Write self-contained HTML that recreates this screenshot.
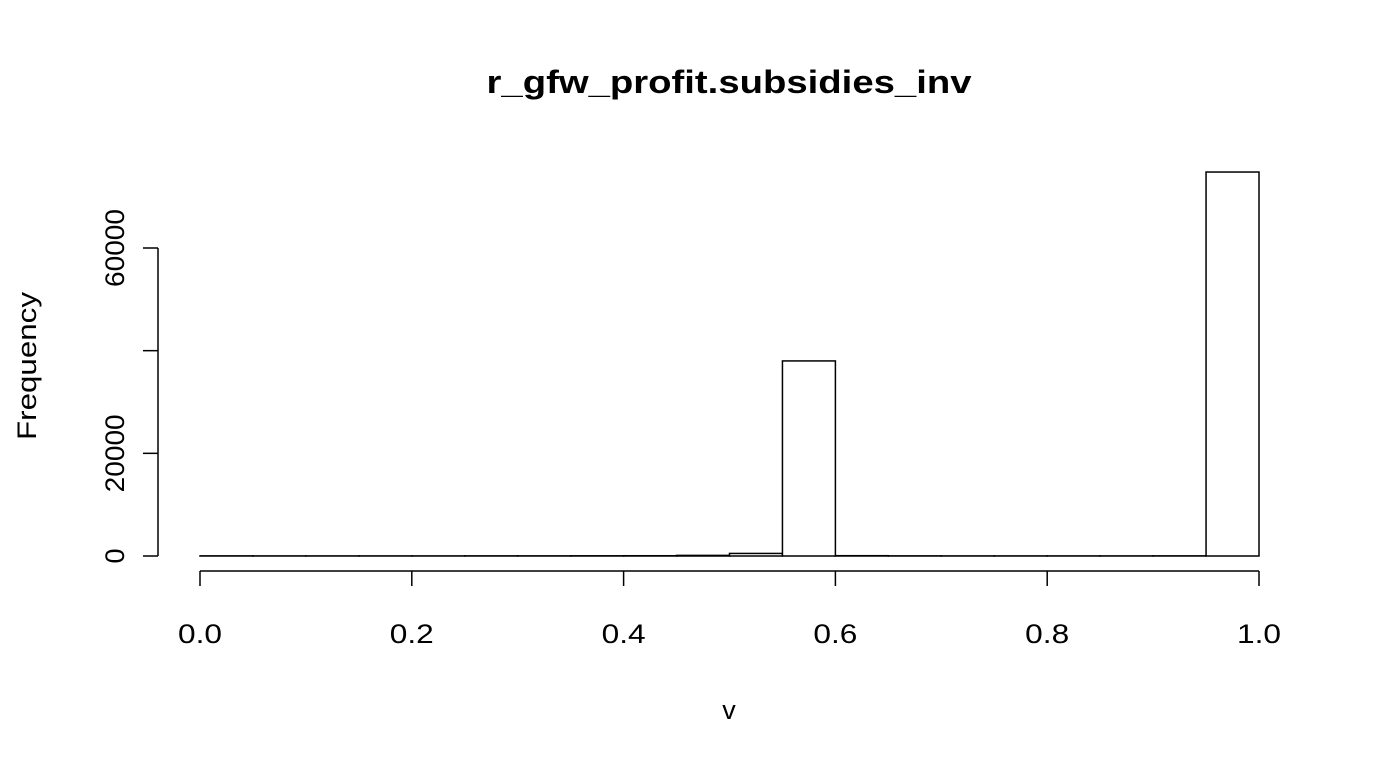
<!DOCTYPE html>
<html><head><meta charset="utf-8"><style>
body{margin:0;background:#fff}
svg{display:block;font-family:"Liberation Sans",Arial,sans-serif}
</style></head><body>
<svg id="chart" width="1382" height="768" viewBox="0 0 1382 768">
<text x="729" y="93" text-anchor="middle" font-size="32" font-weight="bold" textLength="485" lengthAdjust="spacingAndGlyphs">r_gfw_profit.subsidies_inv</text>
<text x="729" y="719" text-anchor="middle" font-size="27">v</text>
<text transform="translate(36,366) rotate(-90)" text-anchor="middle" font-size="27" textLength="148" lengthAdjust="spacingAndGlyphs">Frequency</text>
<g id="bars"></g><g id="xaxis"></g><g id="yaxis"></g>
</svg>
<script>
const binStarts=[0,0.05,0.1,0.15,0.2,0.25,0.3,0.35,0.4,0.45,0.5,0.55,0.6,0.65,0.7,0.75,0.8,0.85,0.9,0.95];
const counts=[30,20,20,20,20,30,30,40,50,120,500,38000,60,30,20,20,20,20,30,74800];
const binWidth=0.05;
const xTicks=[0,0.2,0.4,0.6,0.8,1.0];
const xTickLabels=["0.0","0.2","0.4","0.6","0.8","1.0"];
const yTicks=[0,20000,40000,60000];
const yTickLabels=["0","20000","","60000"];
const NS="http://www.w3.org/2000/svg";
const x=v=>200+v*1059;
const y=v=>556-v*308/60000;
function mk(t,a,p){const e=document.createElementNS(NS,t);for(const k in a)e.setAttribute(k,a[k]);p.appendChild(e);return e;}
const bars=document.getElementById('bars');
binStarts.forEach((b,i)=>{
 const r=mk('rect',{x:x(b),y:y(counts[i]),width:x(b+binWidth)-x(b),height:556-y(counts[i]),fill:'#fff',stroke:'#000','stroke-width':1.5},bars);
 
 
});
const xa=document.getElementById('xaxis');
const xl=mk('line',{x1:x(0),x2:x(1),y1:571,y2:571,stroke:'#000','stroke-width':1.5},xa);


xTicks.forEach((t,i)=>{
 mk('line',{x1:x(t),x2:x(t),y1:571,y2:586,stroke:'#000','stroke-width':1.5},xa);
 const tx=mk('text',{x:x(t),y:643,'text-anchor':'middle','font-size':27,textLength:44,lengthAdjust:'spacingAndGlyphs'},xa);
 tx.textContent=xTickLabels[i];
 
 
});
const ya=document.getElementById('yaxis');
const yl=mk('line',{x1:158,x2:158,y1:y(0),y2:y(60000),stroke:'#000','stroke-width':1.5},ya);


yTicks.forEach((t,i)=>{
 mk('line',{x1:143,x2:158,y1:y(t),y2:y(t),stroke:'#000','stroke-width':1.5},ya);
 if(!yTickLabels[i])return;
 const attrs={transform:`translate(124,${y(t)}) rotate(-90)`,'text-anchor':'middle','font-size':27};
 if(yTickLabels[i].length>1){attrs.textLength=yTickLabels[i].length*15.6;attrs.lengthAdjust='spacingAndGlyphs';}
 const tx=mk('text',attrs,ya);
 tx.textContent=yTickLabels[i];
 
 
});
</script>
</body></html>
